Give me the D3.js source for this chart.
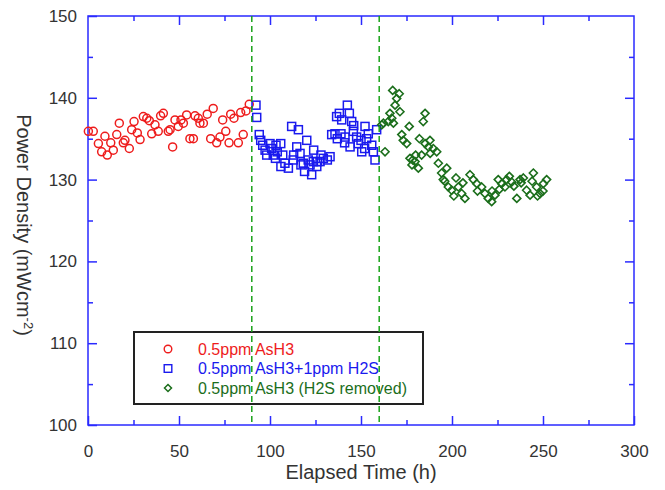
<!DOCTYPE html>
<html>
<head>
<meta charset="utf-8">
<script src="https://cdn.jsdelivr.net/npm/d3@7"></script>
<style>
  body { margin: 0; background: #fff; }
  text { font-family: "Liberation Sans", Arial, sans-serif; }
</style>
</head>
<body>
<script>
// 0.5ppm AsH3 (red circles)
var asH3Time = [0.2,2.9,5.7,7.5,9.3,10.6,12.5,13.9,15.8,17.2,19.4,20.3,22.7,24.0,25.3,27.1,28.6,30.4,32.3,33.7,
  35.0,36.8,38.6,39.9,41.4,44.1,45.1,46.5,47.8,49.6,51.1,52.4,54.2,56.0,57.9,58.8,60.6,61.5,63.4,65.5,
  67.4,68.8,70.7,72.5,74.0,75.7,77.5,78.4,80.2,82.6,83.9,85.3,86.8,88.6];
var asH3Power = [135.9,135.9,134.4,133.4,135.3,133.0,134.5,133.6,135.5,136.9,134.5,134.8,133.8,136.1,137.1,135.7,134.9,137.7,137.5,137.2,
  135.6,136.7,135.9,137.8,138.1,135.9,136.1,134.0,137.3,136.5,137.3,136.9,137.9,135.0,135.0,137.8,137.5,136.9,136.9,138.0,
  135.0,138.7,134.5,135.2,137.3,135.9,134.5,138.0,137.5,134.5,138.2,135.5,138.4,139.2];

// 0.5ppm AsH3 + 1ppm H2S (blue squares)
var h2sTime = [92.3,92.7,94.1,94.9,96.0,97.3,98.2,100.0,100.9,101.8,103.0,103.3,104.0,105.9,106.0,107.0,108.2,110.1,111.9,112.8,
  113.0,114.7,115.6,116.5,117.0,118.3,119.0,120.2,121.0,122.0,122.9,123.8,124.0,125.7,126.0,127.5,128.0,129.3,131.5,133.0,
  133.9,135.7,136.6,137.0,138.1,139.0,139.4,141.0,141.2,142.5,143.6,144.0,144.9,145.8,146.0,147.6,148.5,150.0,150.4,152.0,
  152.2,153.1,154.0,155.9,156.8,157.7,158.6];
var h2sPower = [139.1,137.6,135.5,134.8,134.2,133.6,133.0,134.4,133.8,133.0,132.6,134.2,133.4,134.4,131.6,133.0,132.0,131.4,136.5,132.4,
  133.0,134.0,136.1,133.2,131.8,132.0,131.0,134.8,132.4,131.8,130.6,132.2,133.6,131.6,132.2,132.2,133.0,132.6,132.4,132.8,
  135.5,135.6,137.7,135.0,138.1,135.6,137.3,134.5,135.2,139.1,138.1,134.0,137.1,135.9,136.6,135.2,134.4,134.8,133.4,133.8,
  136.5,135.0,135.6,134.2,133.4,132.4,136.1];

// 0.5ppm AsH3, H2S removed (green diamonds)
var removedTime = [161.4,162.3,163.2,165.0,165.9,166.9,167.4,167.8,168.7,169.6,171.0,171.4,172.4,173.2,175.1,176.5,176.9,178.0,178.4,179.7,
  180.0,181.5,182.1,183.3,184.2,185.2,185.2,187.0,187.9,188.0,189.7,191.6,192.5,194.3,195.2,196.0,197.1,198.0,199.8,201.0,
  202.2,203.5,205.3,206.0,207.1,209.9,211.7,213.6,214.0,216.3,218.1,219.9,221.8,222.0,223.6,225.4,226.0,227.3,229.1,230.0,
  231.5,232.8,234.0,235.6,237.4,238.0,239.2,241.0,242.9,244.0,244.7,246.5,247.0,248.4,250.0,250.2,252.0];
var removedPower = [136.7,136.9,133.4,137.1,138.1,137.5,140.9,136.9,139.1,139.9,140.5,138.3,135.5,134.8,134.4,136.5,132.6,131.8,132.4,132.2,
  133.0,131.4,135.0,133.0,137.1,138.1,134.4,134.0,134.8,133.2,133.8,133.4,132.0,130.8,130.0,129.8,131.4,129.1,128.7,128.0,
  130.2,129.1,128.3,129.6,127.7,130.6,130.0,129.5,128.6,129.1,128.3,127.7,127.3,128.6,128.1,130.0,128.8,129.5,129.1,130.0,
  130.4,129.7,129.2,127.7,130.0,129.6,130.2,128.7,128.1,129.8,130.8,129.1,128.0,128.3,128.6,129.5,130.0];

var switchTimes = [90, 160];
var xMajor = [0, 50, 100, 150, 200, 250, 300];
var xMinor = [25, 75, 125, 175, 225, 275];
var yMajor = [100, 110, 120, 130, 140, 150];
var yMinor = [105, 115, 125, 135, 145];
var legendLabels = ["0.5ppm AsH3", "0.5ppm AsH3+1ppm H2S", "0.5ppm AsH3 (H2S removed)"];

var axisColor = "#2a2aff";
var red = "#ee1c1c", blue = "#1a1aee", green = "#1b6e1b";

var W = 665, H = 490;
var plotL = 88, plotR = 634, plotT = 16, plotB = 425;

var svg = d3.select("body").append("svg")
    .attr("width", W)
    .attr("height", H);

var x = d3.scaleLinear().domain([0, 300]).range([plotL, plotR]);
var y = d3.scaleLinear().domain([100, 150]).range([plotB, plotT]);

// frame
svg.append("rect")
    .attr("x", plotL).attr("y", plotT)
    .attr("width", plotR - plotL).attr("height", plotB - plotT)
    .attr("fill", "none")
    .attr("stroke", axisColor)
    .attr("stroke-width", 1.5);

function styleAxis(g) {
  g.select(".domain").remove();
  g.selectAll(".tick line").attr("stroke", axisColor).attr("stroke-width", 1.5);
  g.selectAll(".tick text")
    .attr("fill", "#333")
    .style("font-size", "17px")
    .style("font-family", "'Liberation Sans', Arial, sans-serif");
}

// bottom axis with labels, ticks pointing inward
svg.append("g")
    .attr("transform", "translate(0," + plotB + ")")
    .call(d3.axisBottom(x).tickValues(xMajor).tickSizeInner(-9).tickPadding(20))
    .call(styleAxis);
svg.append("g")
    .attr("transform", "translate(0," + plotB + ")")
    .call(d3.axisBottom(x).tickValues(xMinor).tickSizeInner(-5).tickFormat(""))
    .call(styleAxis);
// top mirror ticks
svg.append("g")
    .attr("transform", "translate(0," + plotT + ")")
    .call(d3.axisTop(x).tickValues(xMajor.slice(1, -1)).tickSizeInner(-9).tickFormat(""))
    .call(styleAxis);
svg.append("g")
    .attr("transform", "translate(0," + plotT + ")")
    .call(d3.axisTop(x).tickValues(xMinor).tickSizeInner(-5).tickFormat(""))
    .call(styleAxis);

// left axis with labels
svg.append("g")
    .attr("transform", "translate(" + plotL + ",0)")
    .call(d3.axisLeft(y).tickValues(yMajor).tickSizeInner(-9).tickPadding(11))
    .call(styleAxis);
svg.append("g")
    .attr("transform", "translate(" + plotL + ",0)")
    .call(d3.axisLeft(y).tickValues(yMinor).tickSizeInner(-5).tickFormat(""))
    .call(styleAxis);
// right mirror ticks
svg.append("g")
    .attr("transform", "translate(" + plotR + ",0)")
    .call(d3.axisRight(y).tickValues(yMajor.slice(1, -1)).tickSizeInner(-9).tickFormat(""))
    .call(styleAxis);
svg.append("g")
    .attr("transform", "translate(" + plotR + ",0)")
    .call(d3.axisRight(y).tickValues(yMinor).tickSizeInner(-5).tickFormat(""))
    .call(styleAxis);

// axis titles
svg.append("text")
    .attr("x", (plotL + plotR) / 2)
    .attr("y", 479)
    .attr("text-anchor", "middle")
    .attr("fill", "#333")
    .style("font-size", "20px")
    .text("Elapsed Time (h)");

var yt = svg.append("text")
    .attr("transform", "translate(17,225) rotate(90)")
    .attr("text-anchor", "middle")
    .attr("fill", "#333")
    .style("font-size", "20px");
yt.append("tspan").text("Power Density (mWcm");
yt.append("tspan").attr("dy", -7).style("font-size", "13px").text("-2");
yt.append("tspan").attr("dy", 7).text(")");

// data
var ptsRed = d3.zip(asH3Time, asH3Power);
var ptsBlue = d3.zip(h2sTime, h2sPower);
var ptsGreen = d3.zip(removedTime, removedPower);

svg.append("g").selectAll("circle")
    .data(ptsRed)
  .enter().append("circle")
    .attr("cx", function(d) { return x(d[0]); })
    .attr("cy", function(d) { return y(d[1]); })
    .attr("r", 4)
    .attr("fill", "none")
    .attr("stroke", red)
    .attr("stroke-width", 1.5);

svg.append("g").selectAll("rect")
    .data(ptsBlue)
  .enter().append("rect")
    .attr("x", function(d) { return x(d[0]) - 4; })
    .attr("y", function(d) { return y(d[1]) - 4; })
    .attr("width", 8)
    .attr("height", 8)
    .attr("fill", "none")
    .attr("stroke", blue)
    .attr("stroke-width", 1.5);

var diamond = "M0,-4L4,0L0,4L-4,0Z";
svg.append("g").selectAll("path")
    .data(ptsGreen)
  .enter().append("path")
    .attr("d", diamond)
    .attr("transform", function(d) { return "translate(" + x(d[0]) + "," + y(d[1]) + ")"; })
    .attr("fill", "none")
    .attr("stroke", green)
    .attr("stroke-width", 1.6);

// legend
var lg = svg.append("g");
lg.append("rect")
    .attr("x", 134).attr("y", 332)
    .attr("width", 289).attr("height", 72)
    .attr("fill", "#fff")
    .attr("stroke", "#222")
    .attr("stroke-width", 2);
var legendColors = [red, blue, green];
legendLabels.forEach(function(lab, i) {
  var cy = 349 + i * 19.5;
  if (i === 0) {
    lg.append("circle").attr("cx", 168).attr("cy", cy).attr("r", 3.8)
      .attr("fill", "none").attr("stroke", red).attr("stroke-width", 1.4);
  } else if (i === 1) {
    lg.append("rect").attr("x", 168 - 3.8).attr("y", cy - 3.8).attr("width", 7.6).attr("height", 7.6)
      .attr("fill", "none").attr("stroke", blue).attr("stroke-width", 1.4);
  } else {
    lg.append("path").attr("d", "M0,-3.5L3.5,0L0,3.5L-3.5,0Z").attr("transform", "translate(168," + cy + ")")
      .attr("fill", "none").attr("stroke", green).attr("stroke-width", 1.5);
  }
  lg.append("text")
    .attr("x", 198).attr("y", cy + 5.5)
    .attr("fill", legendColors[i])
    .style("font-size", "16px")
    .text(lab);
});

// switch-over lines
svg.append("g").selectAll("line")
    .data(switchTimes)
  .enter().append("line")
    .attr("x1", function(d) { return x(d); })
    .attr("x2", function(d) { return x(d); })
    .attr("y1", plotT)
    .attr("y2", plotB)
    .attr("stroke", "#1aa31a")
    .attr("stroke-width", 1.5)
    .attr("stroke-dasharray", "6,4");
</script>
</body>
</html>
